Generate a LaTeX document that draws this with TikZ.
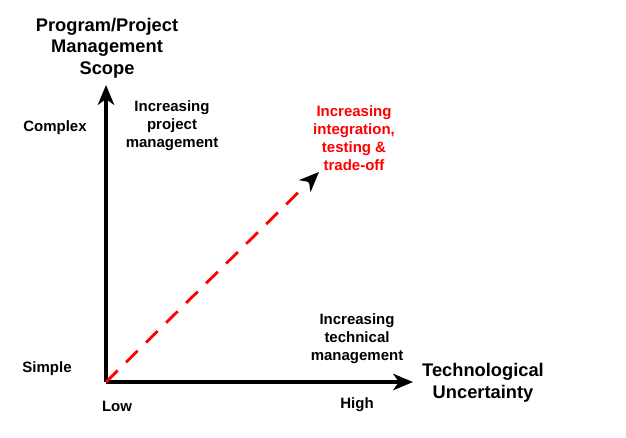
\documentclass[tikz,border=0pt]{standalone}
\usepackage{fontspec}
\setmainfont{Liberation Sans}
\usepackage{tikz}
\usetikzlibrary{arrows.meta,positioning,calc}

\begin{document}
\begin{tikzpicture}[
  x=0.03cm,y=-0.03cm,
  axisline/.style={draw,line width=2.6pt,-{Stealth[length=17pt,width=14pt,inset=5pt]}},
  tradeline/.style={draw=red,line width=2.4pt,dash pattern=on 14pt off 10pt},
  lbl/.style={font=\bfseries\fontsize{12.8}{15.4}\selectfont,align=center,inner sep=0pt},
  ttl/.style={font=\bfseries\fontsize{15.6}{18.4}\selectfont,align=center,inner sep=0pt}
]
  \useasboundingbox (0,0) rectangle (626,437);
  % axes
  \coordinate (o) at (106,382);
  \coordinate (ytop) at (106,85);
  \coordinate (xend) at (413,382);
  \coordinate (diag) at (319,172);
  \draw[axisline] (o) -- (ytop);
  \draw[axisline] (o) -- (xend);
  \draw[tradeline] (o) -- ($(o)!0.93!(diag)$);
  \draw[axisline] ($(o)!0.95!(diag)$) -- (diag);

  % axis titles
  \node[ttl] (scope) at (107,48) {Program/Project\\Management\\Scope};
  \node[ttl] (tech) at (483,383) {Technological\\Uncertainty};

  % tick labels
  \node[lbl] (complex) at (55,128) {Complex};
  \node[lbl] (simple) at (47,369) {Simple};
  \node[lbl] (low) at (117,406) {Low};
  \node[lbl] (high) at (357,405) {High};

  % trend labels
  \node[lbl] (projmgmt) at (172,126) {Increasing\\project\\management};
  \node[lbl] (techmgmt) at (357,339) {Increasing\\technical\\management};
  \node[lbl,text=red] (integ) at (354,138) {Increasing\\integration,\\testing \&\\trade-off};
\end{tikzpicture}
\end{document}
